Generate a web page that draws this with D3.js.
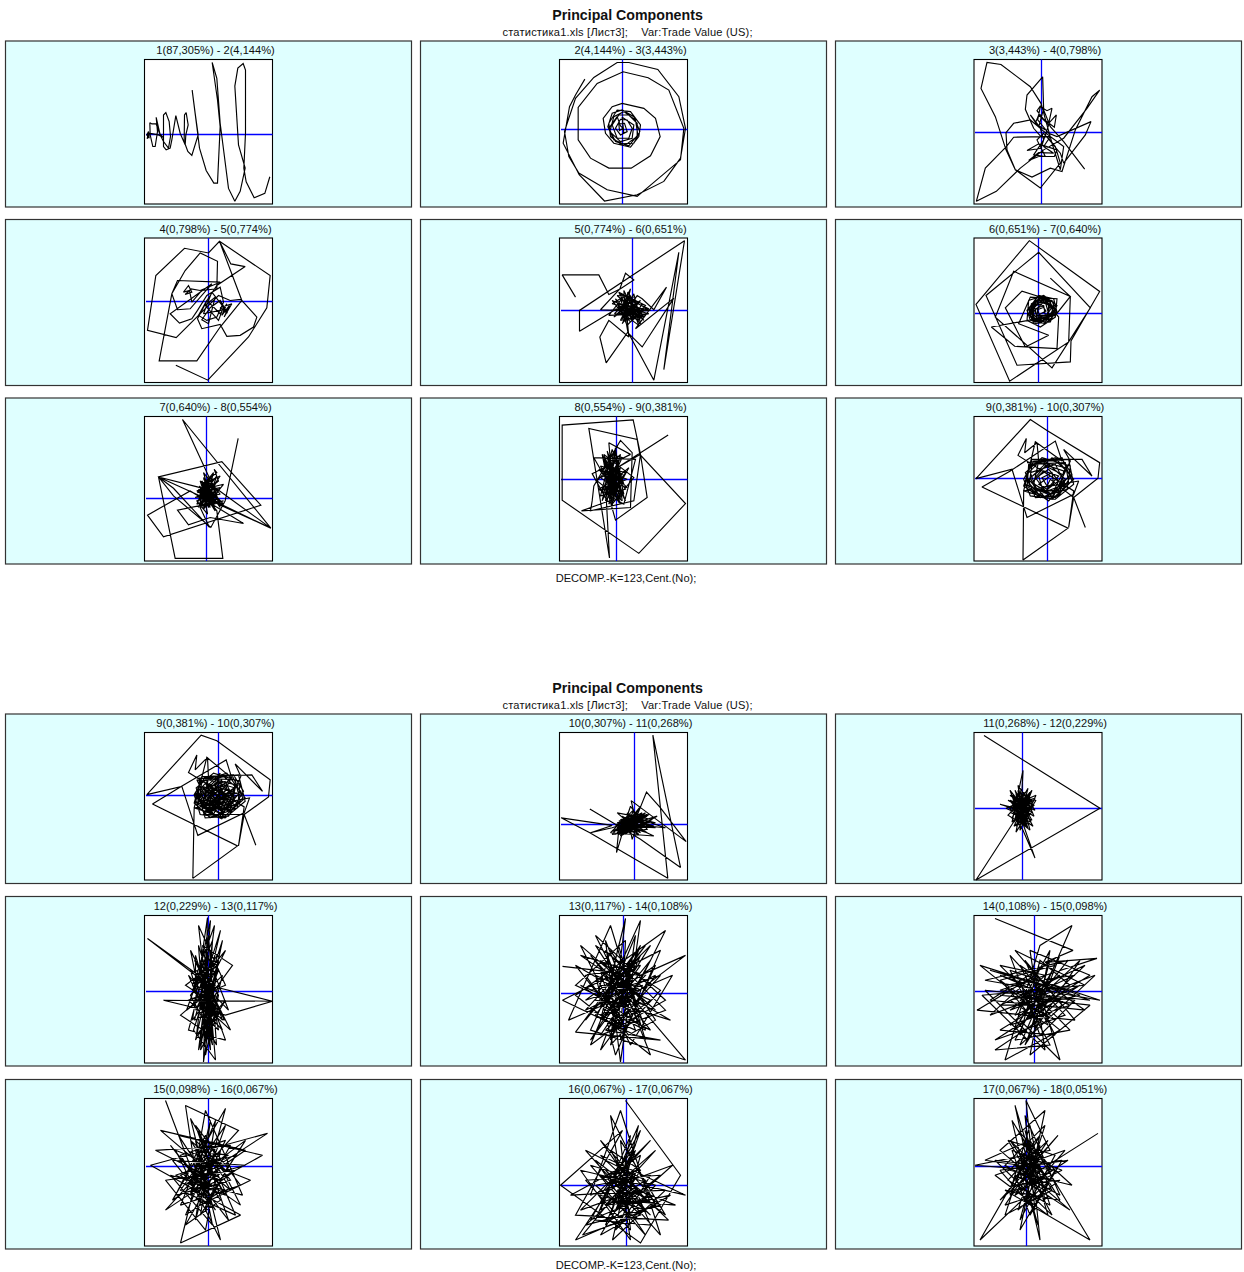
<!DOCTYPE html>
<html><head><meta charset="utf-8">
<script src="https://cdnjs.cloudflare.com/ajax/libs/d3/7.8.5/d3.min.js"></script>
<style>html,body{margin:0;padding:0;background:#fff}svg{display:block}text{font-family:"Liberation Sans",Arial,sans-serif;fill:#111}</style>
</head><body><svg id="c" width="1244" height="1272"></svg>
<script>
// Scores, in reading units (one arbitrary unit per panel).
const titles=["1(87,305%) - 2(4,144%)","2(4,144%) - 3(3,443%)","3(3,443%) - 4(0,798%)","4(0,798%) - 5(0,774%)","5(0,774%) - 6(0,651%)","6(0,651%) - 7(0,640%)","7(0,640%) - 8(0,554%)","8(0,554%) - 9(0,381%)","9(0,381%) - 10(0,307%)","9(0,381%) - 10(0,307%)","10(0,307%) - 11(0,268%)","11(0,268%) - 12(0,229%)","12(0,229%) - 13(0,117%)","13(0,117%) - 14(0,108%)","14(0,108%) - 15(0,098%)","15(0,098%) - 16(0,067%)","16(0,067%) - 17(0,067%)","17(0,067%) - 18(0,051%)"];
const mainTitle="Principal Components";
const subTitle="статистика1.xls [Лист3];    Var:Trade Value (US);";
const footer="DECOMP.-K=123,Cent.(No);";
// [left,right,bottom,top,zeroX,zeroY] of each panel in its reading units
const extents=[[433,817,613,178,443,401],[417,801,613,178,604,386],[431,815,493,58,631,277],[73,457,487,52,263,242],[57,441,487,52,273,268],[56,440,487,52,249,279],[73,457,481,46,257,292],[57,441,481,46,225,234],[56,440,481,46,275,231],[73,457,483,37,292,225],[57,441,483,37,279,314],[974,1102,880,732,1022,808],[144,272,1063,915,207,991],[559,687,1063,915,622,993],[974,1102,1063,915,1034,991],[144,272,1246,1098,207,1166],[559,687,1246,1098,625,1185],[974,1102,1246,1098,1026,1166]];

const s01=[[809,531],[794,581],[762,594],[738,546],[731,505],[736,400],[736,210],[729,190],[713,204],[704,258],[715,435],[735,505],[720,575],[704,605],[685,566],[660,370],[650,235],[636,187],[652,300],[660,380],[652,550],[641,550],[618,512],[598,445],[590,380],[576,270],[585,340],[594,405],[575,467],[563,455],[552,425],[553,345],[558,338],[564,375],[557,405],[555,435],[540,400],[527,347],[515,420],[510,445],[498,450],[490,440],[490,345],[497,338],[507,365],[511,410],[505,445],[490,425],[480,405],[468,352],[472,395],[465,440],[458,440],[450,405],[449,368],[455,372],[468,372],[478,400],[488,412],[475,405],[447,400],[441,417],[445,395],[440,405],[447,415],[445,395]];
const s02=[[493,237],[465,285],[447,320],[428,430],[476,525],[552,604],[650,585],[730,545],[780,475],[795,385],[775,290],[712,208],[625,187],[590,187],[520,232],[465,295],[440,370],[432,395],[445,470],[475,520],[560,570],[650,590],[780,480],[790,385],[745,270],[683,233],[608,215],[530,250],[473,322],[473,420],[510,475],[565,505],[632,505],[690,468],[719,410],[705,355],[670,325],[605,310],[575,320],[548,355],[555,400],[580,430],[630,442],[655,410],[660,375],[630,335],[590,330],[565,370],[570,410],[600,432],[640,430],[658,395],[640,350],[605,330],[575,340],[562,380],[580,420],[615,435],[650,410],[650,370],[625,345],[595,345],[575,375],[590,415],[625,415],[635,385],[620,360],[600,358],[585,385],[600,405],[620,395],[612,370],[595,372],[597,392],[608,385],[600,378],[590,350],[565,385],[585,425],[625,438],[652,405],[645,360],[610,335],[580,350],[568,395],[600,425],[635,415],[640,375],[605,352],[610,400]];
const s03=[[763,388],[700,305],[660,260],[640,210],[637,110],[590,165],[585,208],[610,265],[632,290],[660,290],[700,320],[690,390],[665,310],[632,190],[600,140],[512,73],[470,67],[452,145],[495,230],[527,330],[555,390],[630,445],[690,370],[675,320],[650,290],[550,292],[528,320],[465,385],[438,485],[498,455],[570,385],[640,330],[700,295],[770,205],[808,150],[785,170],[735,270],[695,395],[660,385],[605,412],[555,390],[530,330],[527,278],[550,250],[600,240],[630,265],[640,300],[632,325],[590,332],[625,312],[680,330],[672,350],[625,350],[595,362],[625,338],[670,340],[640,320],[660,290],[635,270],[600,225],[625,262],[640,205],[630,198],[620,212],[640,238],[672,262],[678,225],[655,250],[665,205],[650,212],[630,200],[622,240],[655,280],[680,290],[782,245],[765,285],[700,370],[690,340],[640,280],[620,300],[645,350],[610,345],[640,300],[655,255],[625,225],[615,250],[645,270]];
const s04=[[167,435],[263,480],[385,350],[440,262],[450,165],[298,62],[265,97],[193,83],[107,165],[82,330],[168,352],[235,285],[295,225],[330,240],[362,237],[410,290],[400,320],[360,345],[320,348],[300,312],[245,325],[232,295],[262,238],[290,195],[375,138],[332,130],[298,62],[365,240],[300,320],[230,422],[117,422],[155,220],[195,150],[240,97],[292,122],[290,205],[245,210],[215,245],[208,210],[190,215],[205,195],[215,215],[195,222],[213,205],[240,210],[300,185],[172,180],[155,220],[172,268],[210,265],[275,190],[150,280],[178,308],[215,295],[232,270],[260,225],[300,200],[310,245],[290,290],[260,300],[235,285],[260,240],[300,280],[320,250],[305,285],[328,255],[312,290],[335,250],[300,262],[322,278],[300,240],[270,262],[245,298],[265,310],[285,230],[255,255],[295,300],[310,260],[275,215],[250,280],[300,270],[325,268]];
const e05=[[270,240],[220,290],[300,240],[245,310],[285,230],[230,225],[310,300],[255,225],[215,250],[325,280],[240,300],[280,220],[300,310],[225,235],[260,315],[315,255],[235,215],[275,300],[305,250],[245,225],[290,290],[222,280],[265,235],[295,315],[255,285],[240,235],[310,270],[270,305],[232,260],[285,265],[250,250],[300,295],[262,270],[278,248],[248,285],[292,270],[258,255],[272,290]];
const s05=[[105,230],[65,163],[175,163],[205,222],[240,205],[280,178],[255,158],[238,205],[215,230],[180,268],[220,270],[117,333],[117,270],[432,60],[370,448],[415,95],[340,480],[265,340],[305,380],[400,233],[285,325],[378,200],[340,268],[305,235],[290,225],[250,290],[270,205],[235,280],[300,280],[215,240],[260,300],[320,265],[240,220],[265,285],[225,265],[295,300],[250,210],[255,275],[330,270],[230,250],[280,295],[270,225],[245,270],[310,290],[262,215],[250,300],[320,280],[205,285],[240,240],[290,255],[245,295],[275,260],[210,270],[300,270],[255,240],[265,350],[205,300],[178,350],[197,428],[262,335],[250,265],[325,265]].concat(e05);
const e06=[[220,265],[250,225],[295,235],[305,275],[270,310],[225,300],[215,270],[245,232],[290,240],[300,270],[265,300],[230,300],[222,262],[255,235],[285,245],[295,280],[258,305],[225,285],[228,250],[262,228],[300,250],[280,295],[238,305],[220,280],[240,240],[278,238],[298,268],[262,300],[232,292],[232,258],[262,240],[288,262],[270,292],[240,298],[228,272],[252,245],[280,252],[278,285],[245,290],[238,270],[258,252],[272,272],[252,282],[246,268],[262,262]];
const s06=[[285,173],[345,228],[340,365],[163,483],[62,252],[222,60],[433,213],[347,362],[345,425],[185,435],[92,225],[250,95],[405,262],[290,443],[120,290],[175,152],[345,228],[300,285],[108,320],[178,378],[305,385],[310,290],[262,232],[200,212],[150,262],[210,380],[280,345],[190,310],[225,230],[305,235],[300,290],[255,320],[215,300],[220,240],[265,225],[305,255],[285,305],[235,310],[220,265],[245,230],[295,245],[290,295],[240,305],[225,270],[255,228],[300,265],[270,305],[225,290],[235,245],[280,235],[295,280],[250,300],[230,275],[250,240],[285,255],[270,295],[235,295],[235,258],[270,245],[280,280],[245,295],[240,265],[265,255],[270,285],[245,285],[248,265]].concat(e06);
const e07=[[250,235],[285,270],[235,300],[270,225],[295,300],[240,240],[265,320],[300,260],[232,275],[280,215],[255,310],[290,240],[240,320],[270,270],[225,290],[300,280],[250,215],[280,320],[238,255],[262,300],[290,225],[245,285],[310,310],[255,250],[230,310],[275,290],[250,270],[268,240],[240,295],[285,285],[258,265],[245,310],[272,305],[262,280]];
const s07=[[354,112],[315,300],[272,380],[160,285],[115,228],[305,182],[422,313],[130,408],[82,343],[210,270],[370,368],[270,350],[205,372],[172,328],[310,300],[240,320],[268,380],[160,262],[115,228],[165,473],[308,473],[290,330],[260,290],[452,382],[187,55],[265,225],[235,320],[300,225],[245,250],[290,215],[282,205],[295,240],[235,290],[270,230],[250,325],[310,250],[230,270],[285,310],[255,235],[240,310],[275,250],[300,320],[245,240],[262,340],[230,300],[290,270],[250,230],[285,300],[235,265],[270,320],[255,260],[300,300],[240,280],[280,235],[250,300],[265,250],[285,330],[240,260],[115,228],[452,382]].concat(e07);
const e08=[[190,175],[250,290],[200,150],[235,305],[180,195],[255,215],[195,300],[225,140],[245,300],[170,240],[240,160],[205,310],[265,200],[185,270],[230,165],[220,300],[195,185],[255,265],[180,285],[215,145],[250,250],[190,210],[240,295],[205,165],[230,270],[175,205],[260,235],[200,260],[235,175],[215,315],[205,190],[245,220],[195,275],[225,200],[220,275],[210,230],[235,250],[200,225],[225,245]];
const s08=[[383,102],[230,200],[300,160],[320,290],[225,358],[195,250],[207,472],[145,82],[290,115],[298,160],[435,308],[295,458],[65,298],[65,72],[278,56],[300,160],[280,300],[150,330],[155,300],[160,255],[240,118],[275,155],[270,320],[123,330],[220,295],[205,125],[270,160],[155,218],[200,300],[225,150],[240,290],[190,160],[280,230],[215,310],[185,160],[255,300],[210,180],[235,280],[200,170],[245,240],[195,280],[225,170],[250,280],[180,230],[240,200],[210,290],[200,200],[260,260],[195,240],[230,190],[225,290],[215,160],[245,170],[185,300],[205,210],[240,310],[160,170],[285,175],[250,310],[175,265],[230,230],[205,280],[220,210],[215,260]].concat(e08);
const e09=[[215,185],[340,175],[355,250],[300,295],[225,285],[205,235],[235,180],[320,175],[350,220],[310,285],[240,290],[210,215],[260,170],[345,195],[335,265],[255,290],[205,255],[225,195],[300,170],[355,235],[290,295],[215,265],[220,190],[330,185],[340,245],[270,290],[210,225],[250,185],[325,210],[315,270],[240,265],[225,230],[280,190],[330,235],[285,280],[230,245],[265,210],[310,225],[275,265],[250,250],[285,225]];
const s09=[[390,380],[355,290],[428,232],[433,185],[275,88],[225,55],[62,233],[170,205],[215,350],[355,280],[370,240],[205,270],[203,478],[338,382],[80,258],[165,210],[300,120],[320,180],[240,122],[205,270],[290,295],[345,180],[325,145],[410,225],[380,175],[230,175],[210,250],[300,290],[350,240],[320,170],[230,190],[220,260],[280,300],[345,220],[290,170],[215,240],[250,280],[330,250],[300,190],[225,215],[245,270],[310,270],[330,200],[250,180],[235,250],[290,280],[320,220],[270,195],[240,230],[270,270],[310,240],[280,205],[250,225],[260,260],[295,250],[290,215],[260,230],[275,255],[285,235],[355,290],[340,380],[355,270],[188,163],[213,112],[208,155],[245,125],[250,180]].concat(e09);
const e10=[[235,175],[355,165],[375,245],[315,295],[240,285],[222,225],[255,170],[340,165],[370,215],[325,290],[255,295],[228,205],[280,160],[360,185],[352,265],[270,295],[222,250],[240,185],[320,160],[375,235],[305,298],[232,265],[238,175],[345,180],[360,245],[285,290],[225,225],[265,180],[345,205],[330,270],[255,265],[240,230],[295,185],[345,235],[300,280],[245,245],[280,205],[325,225],[290,265],[265,250],[300,225],[255,275],[340,250],[270,200],[310,260],[250,220],[320,195],[280,240],[245,200],[335,280],[260,240],[305,180],[285,275],[240,260],[350,220],[275,225],[295,255],[270,265]];
const s10=[[407,378],[372,285],[445,232],[450,180],[290,62],[243,45],[80,225],[185,200],[233,348],[372,280],[388,235],[222,265],[218,478],[352,380],[97,253],[183,200],[318,120],[335,175],[260,112],[222,265],[305,292],[362,170],[345,132],[427,215],[395,165],[245,170],[225,245],[315,290],[368,235],[335,165],[245,185],[235,255],[295,295],[362,215],[305,165],[230,235],[265,275],[345,245],[315,185],[240,210],[260,265],[325,265],[345,195],[265,175],[250,245],[305,275],[335,215],[285,190],[255,225],[285,265],[325,235],[295,200],[265,220],[275,255],[310,245],[305,210],[275,225],[290,250],[300,230],[250,200],[350,260],[240,240],[330,180],[280,285],[230,180],[360,225],[270,250],[320,210],[245,270],[290,200],[340,270],[255,190],[310,275],[235,225],[300,160],[265,260],[355,195],[250,285],[372,285],[355,380],[372,262],[205,158],[230,105],[225,150],[262,112],[265,175]].concat(e10);
const e11=[[235,305],[320,285],[225,345],[300,300],[215,335],[340,320],[260,295],[245,340],[315,280],[230,325],[285,335],[270,285],[235,345],[330,305],[250,300],[295,345],[225,315],[310,295],[255,345],[280,285],[240,320],[345,325],[265,300],[230,310],[300,320],[245,290],[320,340],[270,325],[240,340],[305,280],[225,320],[285,315],[255,305],[295,290],[250,330],[315,310],[270,295],[260,335],[290,305],[235,330],[310,315],[275,300],[255,320],[285,325],[265,308]];
const s11=[[148,268],[300,360],[420,445],[337,45],[382,478],[148,340],[62,295],[215,318],[150,340],[215,325],[320,290],[235,330],[228,400],[255,310],[340,350],[210,340],[280,270],[250,345],[335,300],[230,280],[300,340],[240,310],[345,310],[265,290],[215,345],[320,330],[270,260],[240,350],[350,290],[255,320],[290,280],[230,340],[310,320],[260,280],[275,360],[300,290],[225,330],[330,320],[285,300],[272,243],[437,367],[360,265],[318,217],[285,300],[245,330],[300,260],[260,330],[325,285],[240,300],[295,330],[275,310],[310,290],[250,310],[290,320],[265,315],[375,325],[300,300],[280,310]].concat(e11);
const e12=[[1010,795],[1032,812],[1014,826],[1028,796],[1012,810],[1033,802],[1016,794],[1026,826],[1008,806],[1030,808],[1018,790],[1022,822],[1035,798],[1013,804],[1027,814],[1019,796],[1031,822],[1010,812],[1024,804],[1016,818],[1029,796],[1015,802],[1026,812],[1020,800],[1012,808],[1028,820],[1018,812],[1032,800],[1022,794],[1014,822],[1026,802],[1020,824],[1030,806],[1016,798],[1024,816]];
const s12=[[984,735],[1100,808],[976,880],[1018,815],[1030,800],[1012,822],[1023,770],[1020,830],[1036,795],[1006,808],[1032,820],[1015,790],[1028,828],[1010,800],[1035,810],[1018,785],[1024,825],[1008,815],[1030,792],[1016,826],[1034,805],[1012,795],[1026,818],[1018,798],[1033,826],[1014,812],[1028,788],[1020,818],[1010,790],[1030,815],[1022,800],[1016,832],[1036,800],[1014,800],[1029,824],[1012,818],[1024,792],[1034,816],[1008,800],[1026,808],[1018,825],[1032,790],[1016,808],[1000,804],[1024,812],[1020,790],[1030,830],[1015,818],[1023,830],[1035,858],[1020,815],[1026,795],[1016,815],[1028,805]].concat(e12);
const e13=[[195,955],[215,1020],[200,1050],[212,960],[192,1005],[222,975],[205,1040],[198,945],[218,1010],[188,975],[210,1025],[225,1000],[196,1035],[208,935],[216,1045],[190,995],[220,950],[202,1025],[214,985],[194,960],[224,1020],[200,1005],[212,1040],[206,955],[186,1010],[218,985],[198,1050],[214,925],[192,985],[208,1015],[222,1030],[196,970],[210,1000],[204,1045],[216,965],[200,985],[212,1010],[194,1020],[206,975],[218,1015],[202,995]];
const s13=[[272,1001],[225,1015],[163,1000],[272,1001],[208,985],[147,938],[198,975],[210,920],[200,1045],[222,940],[193,1030],[215,1060],[205,950],[228,1010],[190,970],[212,1045],[198,925],[225,985],[188,1000],[218,1030],[202,945],[232,965],[192,1020],[207,917],[203,1062],[218,960],[185,985],[215,1005],[195,1040],[220,930],[198,1000],[230,1030],[190,950],[210,1050],[205,975],[225,950],[195,1010],[215,985],[180,1015],[210,1035],[200,960],[222,1020],[192,990],[212,940],[205,1055],[218,995],[198,965],[225,1040],[188,1030],[208,955],[202,1010],[218,970],[195,985]].concat(e13);
const e14=[[590,955],[650,1030],[600,1005],[645,945],[585,1020],[630,965],[610,1045],[660,990],[595,945],[640,1015],[575,985],[625,940],[620,1040],[655,965],[590,1010],[635,1030],[605,950],[665,1010],[600,1035],[630,990],[580,955],[645,975],[612,1010],[590,1040],[650,945],[620,975],[600,1020],[640,965],[585,975],[628,1035],[655,1020],[610,950],[595,1000],[635,1005],[618,945],[605,1010],[645,1030],[625,970],[585,1000],[660,975],[615,1025],[600,970],[632,1015],[642,985],[610,995],[625,1030],[595,1015],[640,955],[620,1000],[605,975]];
const s14=[[562,966],[640,975],[685,955],[600,1020],[625,918],[610,1040],[665,930],[575,995],[650,1055],[605,940],[620,1062],[640,920],[590,1030],[685,1060],[600,960],[655,1010],[580,945],[630,1045],[672,975],[568,1020],[610,925],[645,1040],[562,1000],[660,950],[615,1055],[595,975],[650,1000],[590,1045],[635,935],[622,1025],[575,965],[670,1020],[605,1000],[640,945],[600,1050],[655,975],[585,1010],[630,960],[612,1030],[665,1000],[595,935],[640,1025],[580,985],[625,1005],[650,960],[605,1015],[632,980],[590,990],[645,1005],[610,965],[620,1020],[600,985],[640,990],[615,975],[628,1010],[605,1030],[660,1040],[575,1032],[638,948],[622,990]].concat(e14);
const e15=[[1000,975],[1070,1005],[1010,1025],[1080,960],[1025,1045],[1060,955],[990,1000],[1085,1010],[1020,965],[1055,1035],[1000,1030],[1090,975],[1030,950],[1045,1050],[985,990],[1075,1000],[1040,1035],[1010,955],[1065,1015],[995,1040],[1080,985],[1015,1015],[1050,950],[1030,1055],[1090,1005],[1000,995],[1060,1000],[1020,1035],[1040,960],[1070,985],[1010,1000],[1048,1025],[1025,975],[1080,995],[1035,1005],[1000,980],[1055,965],[1015,1040],[1070,1030],[1040,1000]];
const s15=[[995,918],[1073,950],[1045,962],[1097,958],[1000,990],[1090,1000],[980,965],[1060,1030],[1005,1060],[1040,945],[1072,925],[1020,1045],[1095,975],[990,1015],[1050,960],[1028,1040],[982,995],[1085,985],[1015,950],[1062,1005],[995,1050],[1050,1045],[1010,970],[1100,1000],[985,980],[1068,960],[1020,1020],[1060,1060],[1035,975],[977,1010],[1075,1020],[1025,960],[1045,1005],[1000,1005],[1085,965],[1015,1030],[1040,985],[990,970],[1065,990],[1030,1015],[1005,985],[1075,975],[1020,1000],[1055,1020],[1000,965],[1045,975],[1025,995],[1060,975],[1010,1010],[1050,995],[1035,1030],[1030,985]].concat(e15);
const e16=[[190,1140],[225,1195],[175,1175],[235,1155],[200,1215],[215,1120],[180,1205],[240,1185],[195,1125],[228,1220],[170,1145],[210,1195],[245,1140],[185,1185],[220,1150],[205,1230],[165,1180],[235,1170],[195,1200],[225,1140],[180,1155],[215,1210],[190,1170],[240,1205],[205,1135],[175,1195],[230,1180],[210,1155],[185,1215],[222,1190],[200,1150],[192,1190],[218,1170],[205,1185],[195,1150],[228,1155],[180,1175],[212,1205],[200,1165]];
const s16=[[165,1100],[195,1180],[267,1133],[150,1165],[240,1215],[180,1243],[210,1120],[195,1220],[225,1108],[172,1200],[245,1150],[160,1130],[230,1190],[190,1118],[220,1240],[175,1150],[250,1180],[200,1205],[185,1105],[238,1130],[165,1210],[225,1170],[195,1140],[212,1225],[170,1175],[242,1195],[205,1110],[190,1195],[262,1155],[178,1135],[220,1200],[185,1225],[230,1145],[155,1150],[215,1180],[198,1130],[235,1215],[180,1190],[225,1125],[200,1195],[172,1160],[245,1165],[190,1180],[215,1145],[205,1210],[228,1165],[185,1165],[210,1190],[195,1160],[222,1180],[200,1175],[212,1160]].concat(e16);
const e17=[[600,1140],[650,1195],[590,1220],[640,1130],[610,1215],[660,1175],[585,1180],[630,1230],[620,1140],[665,1215],[595,1160],[645,1235],[605,1190],[650,1140],[580,1210],[635,1190],[615,1230],[655,1185],[590,1165],[625,1205],[670,1195],[600,1235],[640,1170],[610,1150],[630,1185],[585,1225],[660,1205],[620,1175],[645,1210],[600,1195],[635,1145],[615,1185],[650,1215],[605,1170],[625,1195],[640,1190],[612,1205],[628,1160]];
const s17=[[625,1100],[680,1175],[640,1243],[560,1185],[622,1130],[575,1215],[668,1220],[600,1155],[685,1195],[580,1170],[630,1240],[610,1115],[655,1205],[575,1240],[635,1150],[605,1225],[672,1165],[590,1195],[620,1110],[660,1235],[585,1150],[645,1180],[600,1210],[638,1125],[612,1240],[665,1190],[570,1195],[625,1165],[650,1225],[595,1220],[630,1135],[618,1200],[675,1205],[600,1175],[640,1215],[582,1235],[635,1170],[610,1190],[655,1150],[605,1205],[645,1200],[615,1160],[630,1215],[595,1185],[650,1175],[620,1225],[640,1155],[610,1175],[632,1195],[615,1210],[628,1180]].concat(e17);
const e18=[[1010,1140],[1050,1180],[1018,1210],[1045,1125],[1005,1165],[1060,1195],[1025,1115],[1035,1210],[1000,1170],[1068,1160],[1015,1195],[1040,1145],[1020,1220],[1055,1155],[1008,1140],[1045,1200],[1030,1125],[1012,1185],[1060,1180],[1025,1205],[1040,1165],[995,1160],[1052,1215],[1018,1150],[1035,1195],[1005,1205],[1048,1140],[1022,1165],[1062,1160],[1030,1215],[1015,1175],[1045,1190],[1028,1155],[1010,1195],[1052,1170],[1024,1140],[1036,1180],[1018,1185],[1040,1155],[1026,1195]];
const s18=[[1098,1133],[1040,1170],[975,1165],[1050,1150],[1026,1100],[1040,1240],[1012,1120],[1060,1200],[1005,1190],[1090,1240],[1030,1140],[985,1160],[1055,1170],[1020,1230],[1045,1110],[1000,1150],[1070,1210],[1032,1185],[1015,1105],[1048,1215],[995,1175],[1065,1150],[1022,1200],[980,1240],[1040,1135],[1010,1170],[1072,1185],[1028,1145],[1005,1215],[1052,1190],[1018,1130],[1045,1160],[1000,1200],[1058,1135],[1024,1175],[1038,1225],[1012,1150],[1062,1170],[1020,1190],[1035,1150],[1008,1180],[1050,1205],[1025,1130],[1040,1185],[1015,1165],[1045,1175],[1022,1155],[1032,1172]].concat(e18);
const seriesList=[s01,s02,s03,s04,s05,s06,s07,s08,s09,s10,s11,s12,s13,s14,s15,s16,s17,s18];

// layout
const colX=[6,421,836],frameW=406,boxX=[144,559,973.5],boxW=128;
const blocks=[{head:[20,36],foot:582,top:[41,219.5,398],h:166,box:[59.5,238,416.5],boxH:144.5,tb:[53.5,233,411]},
              {head:[693,709],foot:1269,top:[714,896.5,1079.5],h:169.5,box:[732.5,915.5,1098.5],boxH:147.5,tb:[726.5,909.5,1092.5]}];
const svg=d3.select("#c");
const midX=627.5;
blocks.forEach((b,bi)=>{
  svg.append("text").attr("x",midX).attr("y",b.head[0]).attr("text-anchor","middle").attr("font-size",14.2).attr("font-weight","bold").text(mainTitle);
  svg.append("text").attr("x",midX).attr("y",b.head[1]).attr("text-anchor","middle").attr("font-size",11.1).attr("textLength",250).style("white-space","pre").text(subTitle);
  svg.append("text").attr("x",626).attr("y",b.foot).attr("text-anchor","middle").attr("font-size",11.1).text(footer);
  d3.range(3).forEach(r=>d3.range(3).forEach(c=>{
    const i=bi*9+r*3+c;
    const [L,R,B,T,zx,zy]=extents[i];
    const x=d3.scaleLinear().domain([L-zx,R-zx]).range([boxX[c]+.5,boxX[c]+boxW+.5]);
    const y=d3.scaleLinear().domain([zy-B,zy-T]).range([b.box[r]+b.boxH,b.box[r]]);
    const g=svg.append("g");
    g.append("rect").attr("x",colX[c]-.5).attr("y",b.top[r]).attr("width",frameW).attr("height",b.h).attr("fill","#dfffff").attr("stroke","#333").attr("stroke-width",1.2);
    g.append("text").attr("x",boxX[c]+boxW/2+7.5).attr("y",b.tb[r]).attr("text-anchor","middle").attr("font-size",11.1).text(titles[i]);
    g.append("rect").attr("x",boxX[c]+.5).attr("y",b.box[r]).attr("width",boxW).attr("height",b.boxH).attr("fill","#fff").attr("stroke","#000").attr("stroke-width",1.1);
    g.append("line").attr("x1",Math.round(x(L-zx))+1).attr("x2",x(R-zx)).attr("y1",Math.round(y(0))+.5).attr("y2",Math.round(y(0))+.5).attr("stroke","#0000ff").attr("stroke-width",1.3);
    if(i!==0) g.append("line").attr("y1",y(zy-T)).attr("y2",y(zy-B)).attr("x1",Math.round(x(0))+.5).attr("x2",Math.round(x(0))+.5).attr("stroke","#0000ff").attr("stroke-width",1.3);
    const line=d3.line().x(d=>x(d[0]-zx)).y(d=>y(zy-d[1]));
    g.append("path").attr("d",line(seriesList[i])).attr("fill","none").attr("stroke","#000").attr("stroke-width",1.15).attr("stroke-linejoin","miter").attr("stroke-miterlimit",2);
  }));
});
</script></body></html>
